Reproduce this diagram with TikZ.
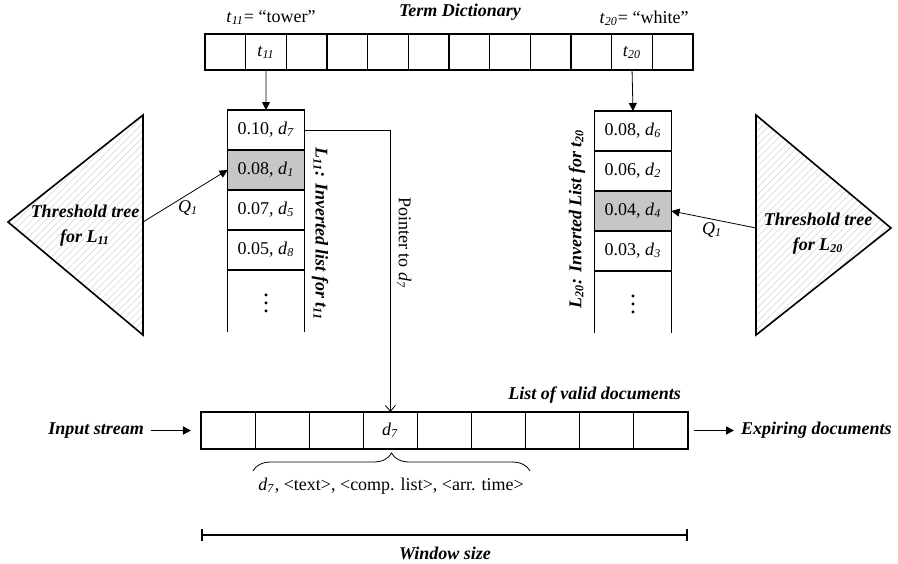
\documentclass[tikz,border=0pt]{standalone}
\usepackage{fontspec}
\setmainfont{Liberation Serif}
\usetikzlibrary{arrows.meta,patterns.meta,decorations.pathreplacing,positioning}

\newcommand{\tsub}[2]{\textit{#1}\textsubscript{\textit{#2}}}

\begin{document}
\begin{tikzpicture}[x=0.5pt,y=-0.5pt,font=\fontsize{9}{11}\selectfont,
  dcell/.style={draw,line width=0.6pt,minimum width=20.33pt,minimum height=18pt,inner sep=0pt,outer sep=0pt},
  lcell/.style={draw,line width=0.6pt,minimum width=38.5pt,minimum height=20pt,inner sep=0pt,outer sep=0pt},
  wcell/.style={draw,line width=0.6pt,minimum width=27.06pt,minimum height=18.5pt,inner sep=0pt,outer sep=0pt},
  tail/.style={minimum width=38.5pt,minimum height=31pt,inner sep=0pt,outer sep=0pt},
  hit/.style={fill=gray!45},
  bi/.style={font=\fontsize{9}{12.5}\selectfont\bfseries\itshape},
  tree/.style={line width=0.8pt,pattern={Lines[angle=45,distance=2.5pt,line width=0.25pt]},pattern color=gray!35},
  tip/.style={-{Triangle[length=4pt,width=4pt]}}]
  \useasboundingbox (0,0) rectangle (898,563);

  % term dictionary
  \foreach \i in {1,...,12}
    \node[dcell] (td\i) at ({205+40.67*(\i-0.5)},52) {};
  \node (t11) at (td2) {\tsub{t}{11}};
  \node (t20) at (td11) {\tsub{t}{20}};
  \node[bi] (dict) at (460,12) {Term Dictionary};
  \node (tower) at (271,18) {\tsub{t}{11}= “tower”};
  \node (white) at (644,18) {\tsub{t}{20}= “white”};

  % inverted list L11
  \node[lcell] (a1) at (266,130) {0.10, \tsub{d}{7}};
  \node[lcell,hit,below=0pt of a1] (a2) {0.08, \tsub{d}{1}};
  \node[lcell,below=0pt of a2] (a3) {0.07, \tsub{d}{5}};
  \node[lcell,below=0pt of a3] (a4) {0.05, \tsub{d}{8}};
  \node[tail,below=0pt of a4] (a5) {\raisebox{4pt}{\large$\vdots$}};
  \draw[line width=0.6pt] (a5.north west) -- (a5.south west) (a5.north east) -- (a5.south east);
  \node[bi,rotate=-90] (l11) at (320,234) {L\textsubscript{11}: Inverted list for t\textsubscript{11}};

  % inverted list L20
  \node[lcell] (b1) at (633,131) {0.08, \tsub{d}{6}};
  \node[lcell,below=0pt of b1] (b2) {0.06, \tsub{d}{2}};
  \node[lcell,hit,below=0pt of b2] (b3) {0.04, \tsub{d}{4}};
  \node[lcell,below=0pt of b3] (b4) {0.03, \tsub{d}{3}};
  \node[tail,below=0pt of b4] (b5) {\raisebox{4pt}{\large$\vdots$}};
  \draw[line width=0.6pt] (b5.north west) -- (b5.south west) (b5.north east) -- (b5.south east);
  \node[bi,rotate=90] (l20) at (577,219) {L\textsubscript{20}: Inverted List for t\textsubscript{20}};

  \draw[tip] (td2.south) -- (a1.north);
  \draw[tip] (td11.south) -- (b1.north);

  % threshold trees
  \coordinate (lt1) at (143,115);
  \coordinate (lt2) at (8,222);
  \coordinate (lt3) at (143,335);
  \coordinate (lq) at (143,222);
  \draw[tree] (lt1) -- (lt2) -- (lt3) -- cycle;
  \node[bi,align=center] (ltree) at (85,226) {Threshold tree\\for L\textsubscript{11}};
  \draw[tip] (lq) -- (a2.west);
  \node (q1a) at (188,208) {\tsub{Q}{1}};

  \coordinate (rt1) at (756,115);
  \coordinate (rt2) at (891,228);
  \coordinate (rt3) at (756,335);
  \coordinate (rq) at (756,228);
  \draw[tree] (rt1) -- (rt2) -- (rt3) -- cycle;
  \node[bi,align=center] (rtree) at (818,234) {Threshold tree\\for L\textsubscript{20}};
  \draw[tip] (rq) -- (b3.east);
  \node (q1b) at (712,230) {\tsub{Q}{1}};

  % list of valid documents
  \foreach \i in {1,...,9}
    \node[wcell] (w\i) at ({201+54.11*(\i-0.5)},430.5) {};
  \node (d7) at (w4) {\tsub{d}{7}};
  \node[bi,anchor=south east] (valid) at ([yshift=1pt]w9.north east) {List of valid documents};

  \draw[-{Straight Barb[length=3pt,width=5pt]}] (a1.east) -| (w4.north);
  \node[rotate=-90] (ptr) at (404,243) {Pointer to \tsub{d}{7}};

  \node[bi,left=25pt of w1] (input) {Input stream};
  \draw[line width=0.8pt,tip] (input.east) -- ([xshift=-5pt]w1.west);
  \node[bi,right=23pt of w9] (expire) {Expiring documents};
  \draw[line width=0.8pt,tip] ([xshift=3pt]w9.east) -- (expire.west);

  % document record
  \coordinate (bl) at (253,471);
  \coordinate (br) at (530,471);
  \draw[decorate,decoration={brace,amplitude=9pt}] (bl) -- (br);
  \node (fields) at (391,486) {\tsub{d}{7}, <text>, <comp. list>, <arr. time>};

  % window
  \coordinate (wl) at (201,535);
  \coordinate (wr) at (688,535);
  \draw[line width=0.8pt,{Bar[width=6pt]}-{Bar[width=6pt]}] (wl) -- (wr);
  \node[bi] (win) at (445,553) {Window size};
\end{tikzpicture}
\end{document}
